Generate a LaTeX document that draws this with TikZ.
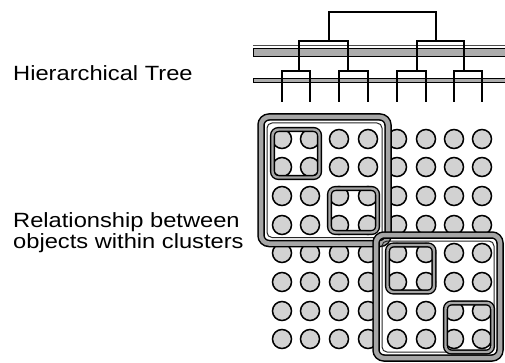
\documentclass[tikz,border=0pt]{standalone}
\usepackage{fontspec}
\setmainfont{Liberation Sans}
\newfontfamily\labfont[FakeStretch=1.15]{Liberation Sans}
\begin{document}
\begin{tikzpicture}[x=1pt,y=-1pt,
  lab/.style={anchor=base west, inner sep=0pt, font=\labfont\fontsize{20.6}{20}\selectfont},
  treeline/.style={line width=1.6pt, black},
  band/.style={draw=black, line width=0.8pt, fill=gray!65},
  obj/.style={circle, draw=black, line width=1.5pt, fill=gray!35, minimum size=19pt, inner sep=0pt},
  bigcl/.style={draw=black, line width=1.5pt, double=gray!70, double distance=4.5pt, rounded corners=8pt},
  bigin/.style={draw=black!85, line width=1pt, rounded corners=5pt},
  smallcl/.style={draw=black, line width=1.4pt, double=gray!70, double distance=2.4pt, rounded corners=6pt}]
\useasboundingbox (0,0) rectangle (505,363);

% labels
\node[lab] (t1) at (13,81) {Hierarchical Tree};
\node[lab] (t2) at (13,227) {Relationship between};
\node[lab] (t3) at (13,248) {objects within clusters};

% bands
\draw[line width=0.8pt, black!70] (253,45) -- (505,45);
\path[band] (253,48) rectangle (506,56);
\path[band] (253,78) rectangle (506,82);

% tree
\draw[treeline] (329,41) |- (436,12) -- (436,41);
\draw[treeline] (299,71) |- (348,41) -- (348,71);
\draw[treeline] (417,71) |- (464,41) -- (464,71);
\foreach \a/\b in {282/310,339/368,397/426,454/482}{
  \draw[treeline] (\a,102) |- (\b,71) -- (\b,102);
}

% objects
\foreach \x [count=\i] in {282,310,339,368,397,426,454,482}{
  \foreach \y [count=\j] in {139,167,196,225,253,282,311,339}{
    \node[obj] (c-\i-\j) at (\x,\y) {};
  }
}

% big clusters
\draw[bigcl] (261,117) rectangle (388,243.5);
\draw[bigin] (267,123) rectangle (382,237.5);
\draw[bigcl] (376,235) rectangle (500,358);
\draw[bigin] (382,241) rectangle (494,352);

% small clusters
\draw[smallcl] (272.5,129.5) rectangle (319.5,177.5);
\draw[smallcl] (329.5,188.5) rectangle (377.5,232.5);
\draw[smallcl] (387.5,245) rectangle (434,292);
\draw[smallcl] (445.5,303) rectangle (492.5,352);
\end{tikzpicture}
\end{document}
